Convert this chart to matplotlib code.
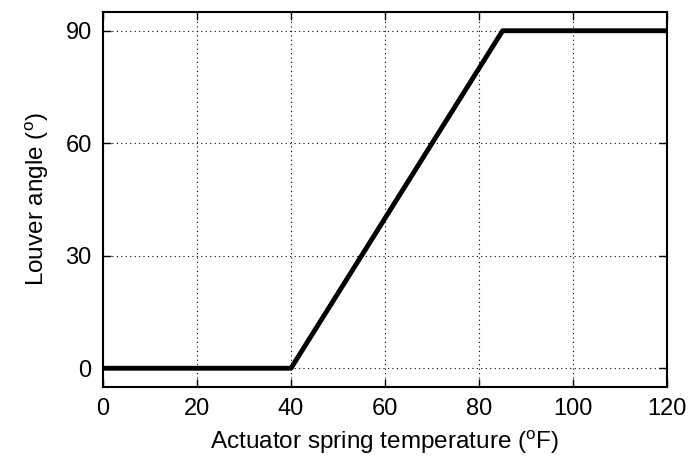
import matplotlib.pyplot as plt

# louver opening vs spring temperature
temp_f = [0, 40, 85, 120]
angle_deg = [0, 0, 90, 90]

x_ticks = [0, 20, 40, 60, 80, 100, 120]
y_ticks = [0, 30, 60, 90]

plt.rcParams["font.family"] = ["Liberation Sans", "DejaVu Sans"]

fig = plt.figure(figsize=(6.9, 4.61), dpi=100)
ax = fig.add_axes([0.149, 0.1605, 0.818, 0.8135])

ax.plot(temp_f, angle_deg, color="black", linewidth=3.5, solid_joinstyle="round")

ax.set_xlim(0, 120)
ax.set_ylim(-5, 95)
ax.set_xticks(x_ticks)
ax.set_yticks(y_ticks)
ax.grid(True, color="black", linestyle=(0, (1, 3)), linewidth=0.8)
ax.tick_params(direction="in", top=True, right=True, length=6, width=1,
               labelsize=17, pad=8)
for s in ax.spines.values():
    s.set_linewidth(1.5)

ax.set_xlabel("Actuator spring temperature ($^{\\mathregular{o}}$F)", fontsize=17.5, labelpad=6)
ax.set_ylabel("Louver angle ($^{\\mathregular{o}}$)", fontsize=17.5, labelpad=10)

fig.savefig("out.png", dpi=100)
